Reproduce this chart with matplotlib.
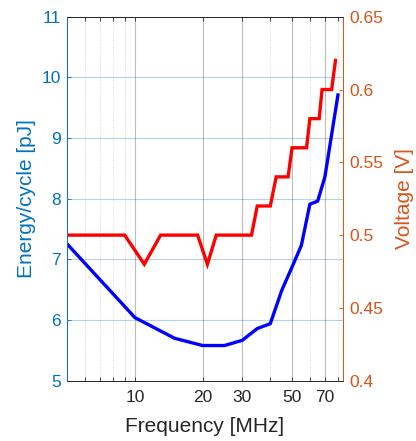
import matplotlib
matplotlib.use("Agg")
import matplotlib.pyplot as plt
from matplotlib.ticker import FixedLocator, NullFormatter, FixedFormatter

# energy per cycle (blue, left axis)
freq_energy = [5, 10, 15, 20, 25, 30, 35, 40, 45, 50, 55, 60, 65, 70, 80]
energy = [7.25, 6.04, 5.70, 5.58, 5.58, 5.665, 5.86, 5.94, 6.49, 6.875, 7.23, 7.91, 7.96, 8.36, 9.71]

# supply voltage (red, right axis)
freq_volt = [5, 9, 11, 13, 19, 21, 23, 33, 35, 40, 42.5, 48, 50, 58, 60, 66, 68, 75, 78]
voltage = [0.5, 0.5, 0.48, 0.5, 0.5, 0.48, 0.5, 0.5, 0.52, 0.52, 0.54, 0.54,
           0.56, 0.56, 0.58, 0.58, 0.6, 0.6, 0.62]

x_major = [10, 20, 30, 50, 70]
x_minor = [6, 7, 8, 9, 40, 60, 80]
y_left_ticks = [5, 6, 7, 8, 9, 10, 11]
y_right_ticks = [0.4, 0.45, 0.5, 0.55, 0.6, 0.65]

blue_ax = "#0072BD"
red_ax = "#D95319"
dark = "#262626"

plt.rcParams['font.family'] = ['Liberation Sans', 'DejaVu Sans']

fig = plt.figure(figsize=(4.16, 4.41), dpi=100)
ax = fig.add_axes([0.1618, 0.1367, 0.6620, 0.8254])
ax2 = ax.twinx()

ax.set_xscale('log')
ax.set_xlim(5, 84)
ax.set_ylim(5, 11)
ax2.set_ylim(0.4, 0.65)

ax.xaxis.set_major_locator(FixedLocator(x_major))
ax.xaxis.set_major_formatter(FixedFormatter([str(v) for v in x_major]))
ax.xaxis.set_minor_locator(FixedLocator(x_minor))
ax.xaxis.set_minor_formatter(NullFormatter())
ax.set_yticks(y_left_ticks)
ax2.set_yticks(y_right_ticks)
ax2.set_yticklabels([f"{v:g}" for v in y_right_ticks])

# grid
ax.grid(True, which='major', axis='x', color=dark, alpha=0.3, linewidth=0.8)
ax.grid(True, which='minor', axis='x', color=dark, alpha=0.15, linewidth=0.6, linestyle=(0, (2, 2)))
ax.grid(True, which='major', axis='y', color=blue_ax, alpha=0.3, linewidth=0.8)
ax.set_axisbelow(True)

ax.plot(freq_energy, energy, color='blue', linewidth=2.4, solid_joinstyle='round')
ax2.plot(freq_volt, voltage, color='red', linewidth=2.4, solid_joinstyle='miter')

# ticks
ax.tick_params(axis='x', which='both', direction='in', top=True, colors=dark,
               labelsize=12.5, length=3, pad=7, width=0.6)
ax.tick_params(axis='y', which='both', direction='in', colors=blue_ax,
               labelsize=12.5, length=3, pad=4.5, width=0.6)
ax2.tick_params(axis='y', which='both', direction='in', colors=red_ax,
                labelsize=12.5, length=3, pad=4.5, width=0.6)

for a in (ax, ax2):
    a.spines['top'].set_color(dark)
    a.spines['bottom'].set_color(dark)
    for s in a.spines.values():
        s.set_linewidth(0.6)
ax2.spines['left'].set_color(blue_ax)
ax2.spines['right'].set_color(red_ax)
ax.spines['left'].set_color(blue_ax)
ax.spines['right'].set_color(red_ax)

ax.set_xlabel("Frequency [MHz]", fontsize=15, color=dark, va='center')
ax.xaxis.set_label_coords(0.5, -0.127)
ax.set_ylabel("Energy/cycle [pJ]", fontsize=15, color=blue_ax, va='center')
ax.yaxis.set_label_coords(-0.150, 0.5)
ax2.set_ylabel("Voltage [V]", fontsize=15, color=red_ax, va='center')
ax2.yaxis.set_label_coords(1.226, 0.5)

fig.savefig("out.png", dpi=100)
